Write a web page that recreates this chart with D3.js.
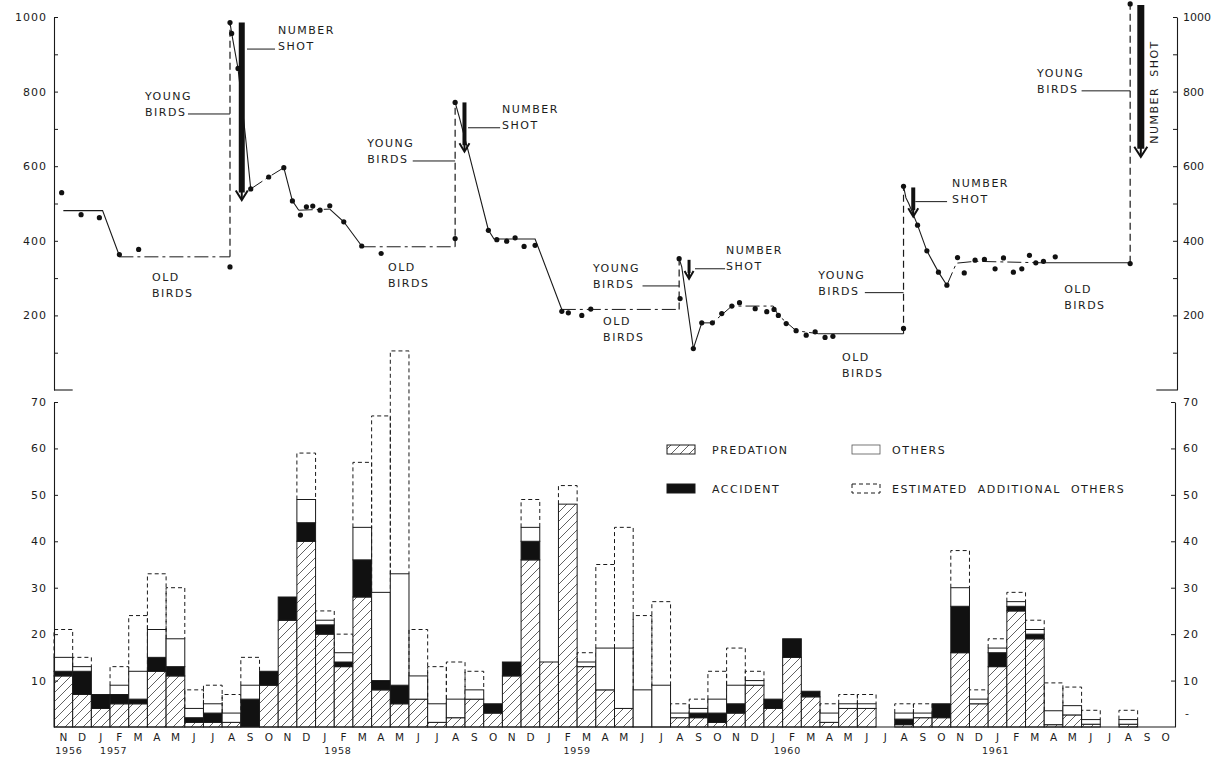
<!DOCTYPE html>
<html><head><meta charset="utf-8">
<script src="https://cdn.jsdelivr.net/npm/d3@7"></script>
<style>
html,body{margin:0;padding:0;background:#fff;}
svg{display:block;background:#fff;}
text{font-family:"DejaVu Sans",sans-serif;fill:#1c1c1c;}
</style></head><body>
<svg id="chart" width="1214" height="759"></svg>
<script>
// ---------- DATA ----------
const monthLetters = ["N","D",
 "J","F","M","A","M","J","J","A","S","O","N","D",
 "J","F","M","A","M","J","J","A","S","O","N","D",
 "J","F","M","A","M","J","J","A","S","O","N","D",
 "J","F","M","A","M","J","J","A","S","O","N","D",
 "J","F","M","A","M","J","J","A","S","O"];
const yearLabels = ["1956","1957","1958","1959","1960","1961"];
const yearAnchors = [0.8, 3.2, 15.2, 28.0, 39.25, 50.4];

const predation = [11,7,4,5,5,12,11,1,1,1,0,9,23,40,20,13,28,8,5,6,1,2,6,3,11,36,14,48,13,8,4,0,0,2,2,1,3,9,4,15,6.5,1,4,4,0,0.5,2,2,16,5,13,25,19,0.5,2.6,0.6,0,0.6,0,0];
const accident  = [1,5,3,2,1,3,2,1,2,0,6,3,5,4,2,1,8,2,4,0,0,0,0,2,3,4,0,0,0,0,0,0,0,0,1,2,2,0,2,4,1.2,0,0,0,0,1.2,0,3,10,0,3,1,1,0,0,0,0,0,0,0];
const others    = [3,1,0,2,6,6,6,2,2,2,3,0,0,5,1,2,7,19,24,5,4,4,2,0,0,3,0,0,1,9,13,8,9,1,1,3,4,1,0,0,0,2,1,1,0,1.3,1,0,4,1,1,1,1,3,2,1,0,1,0,0];
const estimated = [6,2,0,4,12,12,11,4,4,4,6,0,0,10,2,4,14,38,48,10,8,8,4,0,0,6,0,4,2,18,26,16,18,2,2,6,8,2,0,0,0,2,2,2,0,2,2,0,8,2,2,2,2,6,4,2,0,2,0,0];

const seriesNames = ["PREDATION","ACCIDENT","OTHERS","ESTIMATED  ADDITIONAL  OTHERS"];

// top chart: population counts [month position, number]
const popPoints = [
 [0.41,529],[1.45,470],[2.43,462],[3.50,363],[4.53,377],
 [9.42,985],[9.42,330],[9.51,956],[9.85,862],[10.53,539],[11.49,571],[12.30,596],[12.76,507],
 [13.19,469],[13.51,491],[13.85,493],[14.24,482],[14.76,494],[15.51,451],[16.47,386],[17.51,366],
 [21.47,771],[21.47,406],[23.25,428],[23.70,403],[24.23,399],[24.68,408],[25.16,385],[25.75,388],
 [27.18,211],[27.53,207],[28.25,200],[28.73,217],
 [33.46,352],[33.51,245],[34.22,111],[34.67,180],[35.24,180],[35.74,205],[36.28,225],[36.69,234],
 [37.53,218],[38.15,210],[38.54,216],[38.77,200],[39.19,178],[39.72,159],[40.26,147],[40.74,156],
 [41.27,141],[41.69,144],
 [45.47,165],[45.47,546],[46.22,442],[46.72,373],[47.34,316],[47.79,281],[48.36,355],[48.72,314],
 [49.30,348],[49.80,350],[50.37,325],[50.82,354],[51.35,316],[51.80,325],[52.21,361],[52.55,341],
 [52.96,345],[53.59,357],
 [57.60,339],[57.60,1035]
];
// trend lines: solid
const trendSolid = [
 [[0.5,481],[2.6,481],[3.5,360]],
 [[9.42,985],[9.51,956],[9.85,862],[10.25,679],[10.53,539]],
 [[12.30,596],[12.76,507],[13.1,482]],
 [[14.76,485],[15.51,451],[16.47,386]],
 [[21.47,771],[21.7,730],[22.18,639],[23.25,429],[23.55,405],[25.75,405],[27.18,216]],
 [[33.46,352],[33.6,330],[34.22,111],[34.67,180]],
 [[40.9,151],[45.47,151]],
 [[45.47,546],[45.6,515],[45.75,500],[46.22,442],[46.72,373],[47.34,316],[47.79,281]],
 [[52.9,341],[57.6,341]]
];
// trend lines: dash-dot (old birds / interpolated)
const trendDashDot = [
 [[3.5,357],[9.42,357]],
 [[10.53,539],[11.49,571],[12.30,596]],
 [[13.1,482],[14.76,485]],
 [[16.47,384],[21.47,384]],
 [[27.18,216],[33.46,216]],
 [[34.67,180],[35.24,180],[36.28,225],[38.5,225],[38.77,200],[39.72,159],[40.9,151]],
 [[47.79,281],[48.3,340],[49.3,345],[52.9,341]]
];
// young birds added: [month position, from, to]
const youngBirds = [[9.42,357,985],[21.47,384,771],[33.46,216,352],[45.47,151,546],[57.6,341,1035]];
// number shot: [month position, from, to, stroke]
const numberShot = [[10.05,985,509,6],[21.97,771,639,4],[33.99,349,298,3],[45.99,543,465,4],[58.17,1032,625,7]];

// annotation anchors (data coords)
const youngLabel = [[4.87,7.17,9.42,740],[16.76,19.2,21.47,614],[28.85,31.5,33.46,279],[40.9,43.4,45.47,261],[52.62,55.0,57.6,802]];
const shotLabel  = [[11.99,10.33,11.83,914],[23.98,22.16,23.88,703],[35.97,34.31,35.92,325],[48.07,46.1,47.8,505]];
const shotLabelVertical = [58.89,799];
const oldLabel   = [[5.25,303],[17.88,330],[29.39,185],[42.18,88],[54.07,271]];

const topTicks = [100,200,300,400,500,600,700,800,900,1000];
const bottomTicks = [10,20,30,40,50,60,70];

// ---------- SCALES ----------
const svg = d3.select("#chart");
const x  = d3.scaleLinear().domain([0,60]).range([54,1175]);
const yT = d3.scaleLinear().domain([0,1000]).range([390,17]);
const yB = d3.scaleLinear().domain([0,70]).range([727,402]);
const ink = "#1a1a1a";

// hatch pattern
const defs = svg.append("defs");
const pat = defs.append("pattern").attr("id","hatch").attr("patternUnits","userSpaceOnUse")
  .attr("width",9).attr("height",9);
pat.append("rect").attr("width",9).attr("height",9).attr("fill","#fff");
pat.append("path").attr("d","M-1,1 l2,-2 M0,9 l9,-9 M8,10 l2,-2")
  .attr("stroke","#3a3a3a").attr("stroke-width",0.8);

// ---------- BOTTOM BARS ----------
const gB = svg.append("g");
const stacks = monthLetters.map((m,i)=>{
  const p=predation[i], a=accident[i], o=others[i], e=estimated[i];
  return {i, p0:0,p1:p, a0:p,a1:p+a, o0:p+a,o1:p+a+o, e0:p+a+o, e1:p+a+o+e};
});
stacks.forEach(s=>{
  const x0=x(s.i), x1=x(s.i+1);
  if(s.p1>s.p0) gB.append("rect").attr("x",x0).attr("width",x1-x0).attr("y",yB(s.p1)).attr("height",yB(s.p0)-yB(s.p1))
     .attr("fill","url(#hatch)").attr("stroke",ink).attr("stroke-width",1);
  if(s.a1>s.a0) gB.append("rect").attr("x",x0).attr("width",x1-x0).attr("y",yB(s.a1)).attr("height",yB(s.a0)-yB(s.a1))
     .attr("fill","#111").attr("stroke",ink).attr("stroke-width",1);
  if(s.o1>s.o0) gB.append("rect").attr("x",x0).attr("width",x1-x0).attr("y",yB(s.o1)).attr("height",yB(s.o0)-yB(s.o1))
     .attr("fill","#fff").attr("stroke",ink).attr("stroke-width",1);
  if(s.e1>s.e0) gB.append("path")
     .attr("d",`M${x0},${yB(s.e0)}V${yB(s.e1)}H${x1}V${yB(s.e0)}`)
     .attr("fill","none").attr("stroke",ink).attr("stroke-width",1).attr("stroke-dasharray","4,3");
});

// x baseline + month labels
gB.append("line").attr("x1",x(0)).attr("x2",x(60)).attr("y1",yB(0)).attr("y2",yB(0)).attr("stroke",ink).attr("stroke-width",1.2);
gB.selectAll("text.month").data(monthLetters).join("text").attr("class","month")
  .attr("x",(d,i)=>x(i+0.5)).attr("y",yB(0)+14).attr("text-anchor","middle")
  .attr("font-size",10.5).text(d=>d);
gB.selectAll("text.year").data(yearLabels).join("text").attr("class","year")
  .attr("x",(d,i)=>x(yearAnchors[i])).attr("y",yB(0)+27).attr("text-anchor","middle")
  .attr("font-size",9.5).attr("letter-spacing",0.8).text(d=>d);

// bottom axes
const axL = d3.axisLeft(yB).tickValues(bottomTicks).tickSize(-4).tickSizeOuter(0).tickPadding(7);
const gAL = svg.append("g").attr("transform",`translate(${x(0)},0)`).call(axL);
const axR = d3.axisRight(yB).tickValues(bottomTicks).tickSize(-4).tickSizeOuter(0).tickPadding(8);
const gAR = svg.append("g").attr("transform",`translate(${x(60)},0)`).call(axR);
[gAL,gAR].forEach(g=>{
  g.select(".domain").attr("stroke",ink).attr("stroke-width",1.1);
  g.selectAll(".tick line").attr("stroke",ink);
  g.selectAll(".tick text").attr("font-size",11).attr("letter-spacing",1).attr("fill","#1c1c1c")
    .style("font-family","DejaVu Sans");
});
gAR.append("text").attr("x",10).attr("y",yB(3)+4).attr("font-size",11).attr("fill","#1c1c1c").text("-");

// ---------- LEGEND ----------
const lg = svg.append("g");
const legendItems = [
  {name:seriesNames[0], x:667, y:445, kind:"hatch"},
  {name:seriesNames[1], x:667, y:484, kind:"black"},
  {name:seriesNames[2], x:852, y:445, kind:"white"},
  {name:seriesNames[3], x:852, y:484, kind:"dash"}
];
legendItems.forEach(it=>{
  const r = lg.append("rect").attr("x",it.x).attr("y",it.y).attr("width",28).attr("height",9).attr("stroke-width",1);
  if(it.kind==="hatch") r.attr("fill","url(#hatch)").attr("stroke",ink);
  if(it.kind==="black") r.attr("fill","#111").attr("stroke",ink);
  if(it.kind==="white") r.attr("fill","#fff").attr("stroke","#555").attr("stroke-width",0.8);
  if(it.kind==="dash") r.attr("fill","none").attr("stroke",ink).attr("stroke-dasharray","4,3");
  lg.append("text").attr("x",it.x+(it.kind==="hatch"||it.kind==="black"?45:40)).attr("y",it.y+9)
    .attr("font-size",11).attr("letter-spacing",1.5).style("white-space","pre").text(it.name);
});

// ---------- TOP CHART ----------
const gT = svg.append("g");
const axTL = d3.axisLeft(yT).tickValues(topTicks).tickSize(-4).tickSizeOuter(0).tickPadding(7)
  .tickFormat(d=> d%200===0 ? d : "");
const gTL = svg.append("g").attr("transform",`translate(${x(0)},0)`).call(axTL);
const axTR = d3.axisRight(yT).tickValues(topTicks).tickSize(-4).tickSizeOuter(0).tickPadding(6)
  .tickFormat(d=> d%200===0 ? d : "");
const gTR = svg.append("g").attr("transform",`translate(${x(60)+2},0)`).call(axTR);
[gTL,gTR].forEach((g,k)=>{
  g.select(".domain").attr("stroke",ink).attr("stroke-width",1.1);
  g.selectAll(".tick line").attr("stroke",ink);
  g.selectAll(".tick text").attr("font-size",11).attr("letter-spacing",k===0?1:0).attr("fill","#1c1c1c")
    .style("font-family","DejaVu Sans");
});
gT.append("line").attr("x1",x(0)).attr("x2",x(1)).attr("y1",yT(0)).attr("y2",yT(0)).attr("stroke",ink).attr("stroke-width",1.1);
gT.append("line").attr("x1",x(59)).attr("x2",x(60)+2).attr("y1",yT(0)).attr("y2",yT(0)).attr("stroke",ink).attr("stroke-width",1.1);

const line = d3.line().x(d=>x(d[0])).y(d=>yT(d[1]));
gT.selectAll("path.solid").data(trendSolid).join("path").attr("class","solid")
  .attr("d",line).attr("fill","none").attr("stroke",ink).attr("stroke-width",1.1);
gT.selectAll("path.dd").data(trendDashDot).join("path").attr("class","dd")
  .attr("d",line).attr("fill","none").attr("stroke",ink).attr("stroke-width",1)
  .attr("stroke-dasharray","14,4,3,4");
gT.selectAll("line.young").data(youngBirds).join("line").attr("class","young")
  .attr("x1",d=>x(d[0])).attr("x2",d=>x(d[0])).attr("y1",d=>yT(d[1])).attr("y2",d=>yT(d[2]))
  .attr("stroke",ink).attr("stroke-width",1.2).attr("stroke-dasharray","7,4");

// number shot arrows
numberShot.forEach(d=>{
  const cx=x(d[0]), y0=yT(d[1]), y1=yT(d[2]), w=d[3];
  const head = 6 + w*0.6;
  gT.append("line").attr("x1",cx).attr("x2",cx).attr("y1",y0).attr("y2",y1-head+2)
    .attr("stroke","#111").attr("stroke-width",w);
  gT.append("path").attr("d",`M${cx-(3+w*0.5)},${y1-head}L${cx},${y1}L${cx+(3+w*0.5)},${y1-head}`)
    .attr("fill","none").attr("stroke","#111").attr("stroke-width",2);
  gT.append("line").attr("x1",cx).attr("x2",cx).attr("y1",y1-head).attr("y2",y1-1)
    .attr("stroke","#111").attr("stroke-width",2);
});

gT.selectAll("circle.pt").data(popPoints).join("circle").attr("class","pt")
  .attr("cx",d=>x(d[0])).attr("cy",d=>yT(d[1])).attr("r",2.6).attr("fill","#111");

// annotations
const fs = 11, ls = 1.5;
youngLabel.forEach(d=>{
  const ly = yT(d[3]);
  gT.append("line").attr("x1",x(d[1])).attr("x2",x(d[2])).attr("y1",ly).attr("y2",ly).attr("stroke",ink).attr("stroke-width",1);
  gT.append("text").attr("x",x(d[0])).attr("y",ly-14).attr("font-size",fs).attr("letter-spacing",ls).text("YOUNG");
  gT.append("text").attr("x",x(d[0])).attr("y",ly+2).attr("font-size",fs).attr("letter-spacing",ls).text("BIRDS");
});
shotLabel.forEach(d=>{
  const ly = yT(d[3]);
  gT.append("line").attr("x1",x(d[1])).attr("x2",x(d[2])).attr("y1",ly).attr("y2",ly).attr("stroke",ink).attr("stroke-width",1);
  gT.append("text").attr("x",x(d[0])).attr("y",ly-15).attr("font-size",fs).attr("letter-spacing",ls).text("NUMBER");
  gT.append("text").attr("x",x(d[0])).attr("y",ly+1).attr("font-size",fs).attr("letter-spacing",ls).text("SHOT");
});
gT.append("text").attr("transform",`translate(${x(shotLabelVertical[0])+4},${yT(shotLabelVertical[1])}) rotate(-90)`)
  .attr("text-anchor","middle").attr("font-size",fs).attr("letter-spacing",ls).style("white-space","pre").text("NUMBER  SHOT");
oldLabel.forEach(d=>{
  const ty = yT(d[1]);
  gT.append("text").attr("x",x(d[0])).attr("y",ty+4).attr("font-size",fs).attr("letter-spacing",ls).text("OLD");
  gT.append("text").attr("x",x(d[0])).attr("y",ty+20).attr("font-size",fs).attr("letter-spacing",ls).text("BIRDS");
});
</script>
</body></html>
